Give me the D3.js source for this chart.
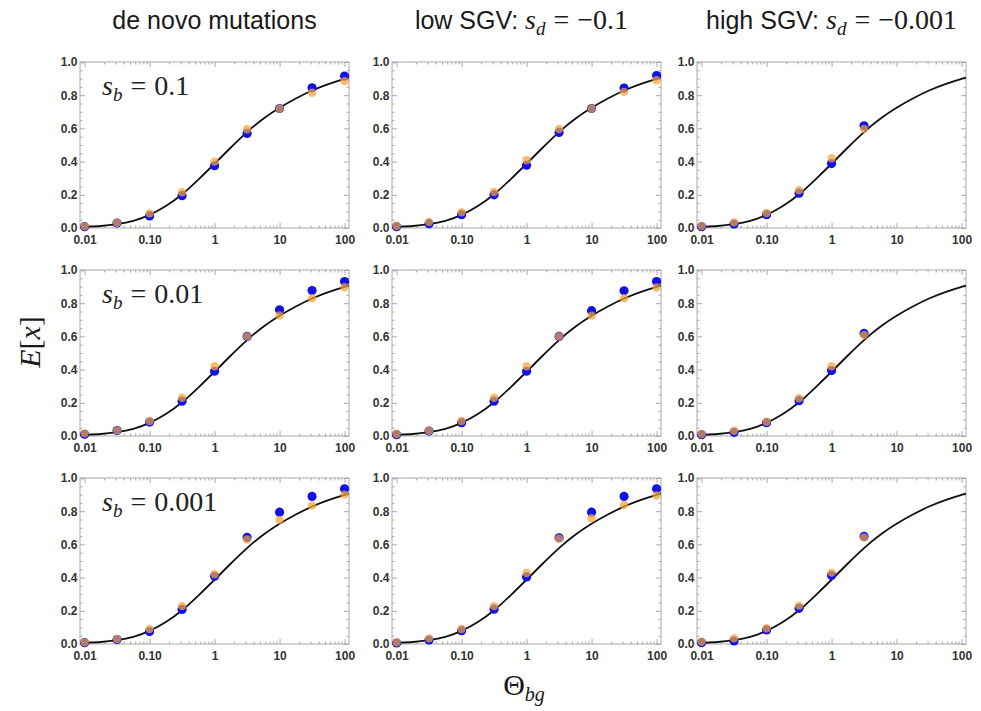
<!DOCTYPE html>
<html>
<head>
<meta charset="utf-8">
<script src="https://cdn.jsdelivr.net/npm/d3@7"></script>
<style>
	body { margin: 0; background: #fff; }
	svg { display: block; }
</style>
</head>
<body>
<div class="chart"></div>
<script>
// Theta values where the simulations were run
const thetaPts = [0.01, 0.0316, 0.1, 0.316, 1, 3.16, 10, 31.6, 100]

// theory curve (same in every panel)
const curveTheta = [0.0085, 0.01, 0.0178, 0.0316, 0.0562, 0.1, 0.178, 0.316, 0.562, 1, 1.78, 3.16, 5.62, 10, 17.8, 31.6, 56.2, 100, 117]
const curveEx = [0.005, 0.007, 0.012, 0.023, 0.043, 0.079, 0.132, 0.203, 0.292, 0.387, 0.485, 0.578, 0.658, 0.724, 0.78, 0.828, 0.867, 0.899, 0.906]

// blue points, one array per column (de novo, low SGV, high SGV)
const blueSb1 = [
	[0.008, 0.03, 0.073, 0.195, 0.375, 0.57, 0.72, 0.845, 0.915],
	[0.008, 0.026, 0.08, 0.2, 0.378, 0.576, 0.72, 0.843, 0.918],
	[0.008, 0.024, 0.08, 0.21, 0.388, 0.616]
]
const blueSb01 = [
	[0.01, 0.033, 0.084, 0.21, 0.39, 0.6, 0.76, 0.876, 0.93],
	[0.008, 0.03, 0.08, 0.21, 0.39, 0.6, 0.755, 0.875, 0.93],
	[0.008, 0.022, 0.08, 0.213, 0.394, 0.618]
]
const blueSb001 = [
	[0.008, 0.027, 0.075, 0.208, 0.408, 0.642, 0.794, 0.889, 0.935],
	[0.006, 0.024, 0.08, 0.21, 0.404, 0.64, 0.794, 0.889, 0.935],
	[0.008, 0.018, 0.085, 0.215, 0.412, 0.648]
]

// orange points
const orangeSb1 = [
	[0.01, 0.032, 0.088, 0.215, 0.4, 0.595, 0.72, 0.815, 0.885],
	[0.012, 0.036, 0.095, 0.217, 0.408, 0.596, 0.72, 0.82, 0.89],
	[0.012, 0.034, 0.09, 0.227, 0.42, 0.596]
]
const orangeSb01 = [
	[0.016, 0.034, 0.09, 0.23, 0.42, 0.6, 0.726, 0.83, 0.896],
	[0.012, 0.032, 0.09, 0.23, 0.42, 0.6, 0.725, 0.83, 0.895],
	[0.012, 0.032, 0.086, 0.227, 0.42, 0.608]
]
const orangeSb001 = [
	[0.01, 0.03, 0.09, 0.228, 0.42, 0.63, 0.747, 0.834, 0.9],
	[0.01, 0.034, 0.09, 0.228, 0.428, 0.635, 0.758, 0.838, 0.895],
	[0.014, 0.034, 0.095, 0.231, 0.43, 0.642]
]

const blueRows = [blueSb1, blueSb01, blueSb001]
const orangeRows = [orangeSb1, orangeSb01, orangeSb001]

const sbLabels = ['0.1', '0.01', '0.001']
const colTitles = ['de novo mutations', 'low SGV: ', 'high SGV: ']
const sdLabels = ['', '\u22120.1', '\u22120.001']

const xTicks = [0.01, 0.1, 1, 10, 100]
const xTickLabels = ['0.01', '0.10', '1', '10', '100']
const yTicks = [0, 0.2, 0.4, 0.6, 0.8, 1.0]
const yTickLabels = ['0.0', '0.2', '0.4', '0.6', '0.8', '1.0']

const width = 981
const height = 711
const colX = [80, 392, 697]
const rowY = [62, 270, 478]
const pw = 269
const ph = 166

const sans = '"Liberation Sans", Arial, sans-serif'
const serif = '"Liberation Serif", "Times New Roman", serif'

const svg = d3.select('.chart')
	.append('svg')
	.attr('width', width)
	.attr('height', height)

const x = d3.scaleLog().domain([0.0085, 117]).range([0, pw])
const y = d3.scaleLinear().domain([0, 1]).range([ph, 0])

// minor ticks
const xMinor = []
for (let e = -3; e <= 2; e++) {
	for (let m = 2; m <= 9; m++) {
		const v = m * Math.pow(10, e)
		if (v > 0.0085 && v < 117) xMinor.push(v)
	}
}
const yMinor = d3.range(0, 1.0001, 0.05).filter(v => Math.abs(v * 5 - Math.round(v * 5)) > 1e-6)

const line = d3.line()
	.x((d, i) => x(curveTheta[i]))
	.y(d => y(d))
	.curve(d3.curveNatural)

const frameCol = '#a9a9a9'

function styleAxis(g) {
	g.select('.domain').remove()
	g.selectAll('.tick line').attr('stroke', frameCol)
	g.selectAll('.tick text')
		.attr('font-family', sans)
		.attr('font-size', '12px')
		.attr('font-weight', 'bold')
		.attr('fill', '#333')
}

// math label "s_sub = value" with wide spacing around the equals sign
function mathLabel(t, sub, value, size, subSize, gap) {
	t.append('tspan').attr('font-family', serif).attr('font-style', 'italic').attr('font-size', size + 'px').text('s')
	t.append('tspan').attr('font-family', serif).attr('font-style', 'italic').attr('font-size', subSize + 'px').attr('dy', size * 0.2).text(sub)
	t.append('tspan').attr('font-family', serif).attr('font-size', size + 'px').attr('dy', -size * 0.2).attr('dx', gap).text('=')
	t.append('tspan').attr('font-family', serif).attr('font-size', size + 'px').attr('dx', gap).text(value)
}

rowY.forEach((top, r) => {
	colX.forEach((left, c) => {
		const g = svg.append('g').attr('transform', `translate(${left},${top})`)
		const id = 'clip' + r + c
		g.append('clipPath').attr('id', id)
			.append('rect').attr('width', pw).attr('height', ph)

		// major + minor ticks on all four sides, pointing inwards
		g.append('g').attr('transform', `translate(0,${ph})`)
			.call(d3.axisBottom(x).tickValues(xTicks).tickSize(-5).tickPadding(7)
				.tickFormat((d, i) => xTickLabels[i]))
			.call(styleAxis)
		g.append('g').attr('transform', `translate(0,${ph})`)
			.call(d3.axisBottom(x).tickValues(xMinor).tickSize(-2.5).tickFormat(''))
			.call(styleAxis)
		g.append('g')
			.call(d3.axisTop(x).tickValues(xTicks).tickSize(-5).tickFormat(''))
			.call(styleAxis)
		g.append('g')
			.call(d3.axisTop(x).tickValues(xMinor).tickSize(-2.5).tickFormat(''))
			.call(styleAxis)
		g.append('g')
			.call(d3.axisLeft(y).tickValues(yTicks).tickSize(-5).tickPadding(2.5)
				.tickFormat((d, i) => yTickLabels[i]))
			.call(styleAxis)
		g.append('g')
			.call(d3.axisLeft(y).tickValues(yMinor).tickSize(-2.5).tickFormat(''))
			.call(styleAxis)
		g.append('g').attr('transform', `translate(${pw},0)`)
			.call(d3.axisRight(y).tickValues(yTicks).tickSize(-5).tickFormat(''))
			.call(styleAxis)
		g.append('g').attr('transform', `translate(${pw},0)`)
			.call(d3.axisRight(y).tickValues(yMinor).tickSize(-2.5).tickFormat(''))
			.call(styleAxis)

		// frame
		g.append('rect')
			.attr('width', pw)
			.attr('height', ph)
			.attr('fill', 'none')
			.attr('stroke', frameCol)
			.attr('stroke-width', 1)

		// theory curve
		g.append('path')
			.datum(curveEx)
			.attr('d', line)
			.attr('clip-path', `url(#${id})`)
			.attr('fill', 'none')
			.attr('stroke', '#111')
			.attr('stroke-width', 1.8)

		// blue points
		g.selectAll('circle.blue')
			.data(blueRows[r][c])
			.enter()
			.append('circle')
			.attr('class', 'blue')
			.attr('cx', (d, i) => x(thetaPts[i]))
			.attr('cy', d => y(d))
			.attr('r', 4.6)
			.attr('fill', '#1212e8')

		// orange points, drawn semi-transparent on top
		g.selectAll('circle.orange')
			.data(orangeRows[r][c])
			.enter()
			.append('circle')
			.attr('class', 'orange')
			.attr('cx', (d, i) => x(thetaPts[i]))
			.attr('cy', d => y(d))
			.attr('r', 4.2)
			.attr('fill', '#f2a436')
			.attr('fill-opacity', 0.72)

		// s_b label in the first column
		if (c === 0) {
			const t = g.append('text')
				.attr('x', 22)
				.attr('y', 33)
				.attr('fill', '#222')
			mathLabel(t, 'b', sbLabels[r], 28, 19, 8)
		}
	})
})

// column titles
colX.forEach((left, c) => {
	const t = svg.append('text')
		.attr('x', left + pw / 2 - (c === 1 ? 5 : 0))
		.attr('y', 29)
		.attr('text-anchor', 'middle')
		.attr('font-family', sans)
		.attr('font-size', '25px')
		.attr('fill', '#1a1a1a')
	t.append('tspan').text(colTitles[c])
	if (sdLabels[c]) mathLabel(t, 'd', sdLabels[c], 28, 19, 8)
})

// y axis label
const yl = svg.append('text')
	.attr('transform', 'translate(40,342) rotate(-90)')
	.attr('text-anchor', 'middle')
	.attr('font-family', serif)
	.attr('font-size', '30px')
	.attr('fill', '#1a1a1a')
yl.append('tspan').attr('font-style', 'italic').text('E')
yl.append('tspan').text('[')
yl.append('tspan').attr('font-style', 'italic').text('x')
yl.append('tspan').text(']')

// x axis label
const xl = svg.append('text')
	.attr('x', 524)
	.attr('y', 695)
	.attr('text-anchor', 'middle')
	.attr('font-family', serif)
	.attr('font-size', '30px')
	.attr('fill', '#1a1a1a')
xl.append('tspan').text('\u0398')
xl.append('tspan').attr('font-style', 'italic').attr('font-size', '20px').attr('dy', 6).text('bg')
</script>
</body>
</html>
